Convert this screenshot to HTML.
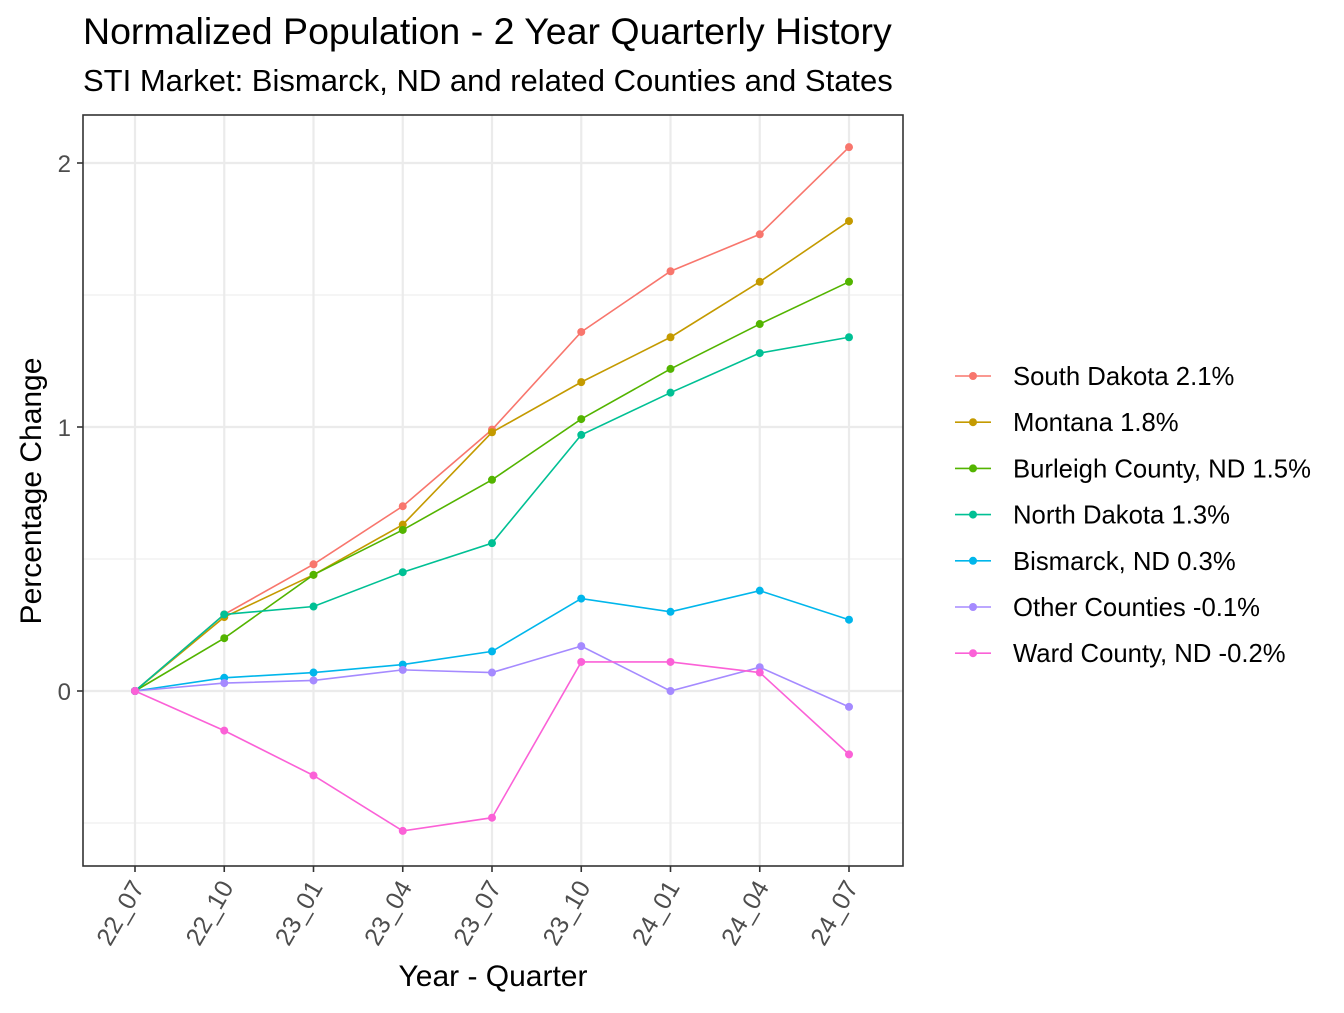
<!DOCTYPE html>
<html><head><meta charset="utf-8"><style>
body{margin:0;background:#fff;font-family:"Liberation Sans",Arial,sans-serif}
</style></head><body>
<svg id="chart" width="1344" height="1008" xmlns="http://www.w3.org/2000/svg" font-family="Liberation Sans, Arial, sans-serif">
<rect width="1344" height="1008" fill="#fff"/>
<text x="83" y="44" font-size="37.5" fill="#000">Normalized Population - 2 Year Quarterly History</text>
<text x="83" y="91" font-size="31" fill="#000">STI Market: Bismarck, ND and related Counties and States</text>
<g id="grid"></g>
<g id="lines"></g>
<rect x="83" y="115" width="820" height="751" fill="none" stroke="#333" stroke-width="1.6"/>
<g id="axes"></g>
<text x="493" y="986" font-size="30" text-anchor="middle">Year - Quarter</text>
<text transform="translate(41,491) rotate(-90)" font-size="30" text-anchor="middle">Percentage Change</text>
<g id="legend"></g>
</svg>
<script>
const categories=["22_07","22_10","23_01","23_04","23_07","23_10","24_01","24_04","24_07"];
const seriesNames=["South Dakota 2.1%","Montana 1.8%","Burleigh County, ND 1.5%","North Dakota 1.3%","Bismarck, ND 0.3%","Other Counties -0.1%","Ward County, ND -0.2%"];
const southDakota=[0,0.29,0.48,0.70,0.99,1.36,1.59,1.73,2.06];
const montana=[0,0.28,0.44,0.63,0.98,1.17,1.34,1.55,1.78];
const burleigh=[0,0.20,0.44,0.61,0.80,1.03,1.22,1.39,1.55];
const northDakota=[0,0.29,0.32,0.45,0.56,0.97,1.13,1.28,1.34];
const bismarck=[0,0.05,0.07,0.10,0.15,0.35,0.30,0.38,0.27];
const otherCounties=[0,0.03,0.04,0.08,0.07,0.17,0.00,0.09,-0.06];
const wardCounty=[0,-0.15,-0.32,-0.53,-0.48,0.11,0.11,0.07,-0.24];
const yTicks=[0,1,2];
const yMinor=[-0.5,0.5,1.5];
const colors=["#F8766D","#C49A00","#53B400","#00C094","#00B6EB","#A58AFF","#FB61D7"];
const allSeries=[southDakota,montana,burleigh,northDakota,bismarck,otherCounties,wardCounty];
const NS="http://www.w3.org/2000/svg";
const x=i=>135+i*(849-135)/(categories.length-1);
const y=v=>691-v*264;
function mk(t,a,p){const e=document.createElementNS(NS,t);for(const k in a)e.setAttribute(k,a[k]);p.appendChild(e);return e;}
const grid=document.getElementById('grid'),lines=document.getElementById('lines'),axes=document.getElementById('axes'),legend=document.getElementById('legend');
yMinor.forEach(v=>{const l=mk('line',{x1:83,x2:903,y1:y(v),y2:y(v),stroke:'#ebebeb','stroke-width':1},grid);

});
yTicks.forEach(v=>{const l=mk('line',{x1:83,x2:903,y1:y(v),y2:y(v),stroke:'#ebebeb','stroke-width':2.2},grid);


const tk=mk('line',{x1:77,x2:83,y1:y(v),y2:y(v),stroke:'#333','stroke-width':1.6},axes);


const t=mk('text',{x:71,y:y(v)+9,'font-size':24,fill:'#4d4d4d','text-anchor':'end'},axes);t.textContent=v;

});
categories.forEach((c,i)=>{const l=mk('line',{x1:x(i),x2:x(i),y1:115,y2:866,stroke:'#ebebeb','stroke-width':2.2},grid);


const tk=mk('line',{x1:x(i),x2:x(i),y1:866,y2:872,stroke:'#333','stroke-width':1.6},axes);


const t=mk('text',{transform:`translate(${x(i)+10},${887}) rotate(-60)`,'font-size':25,fill:'#4d4d4d','text-anchor':'end'},axes);t.textContent=c;

});
allSeries.forEach((s,k)=>{const g=mk('g',{},lines);


const p=mk('polyline',{points:s.map((v,i)=>x(i)+','+y(v)).join(' '),fill:'none',stroke:colors[k],'stroke-width':1.6},g);


s.forEach((v,i)=>{const c=mk('circle',{cx:x(i),cy:y(v),r:4,fill:colors[k]},g);

});
const ly=376+k*46.2;
const lg=mk('g',{},legend);


mk('line',{x1:955,x2:991,y1:ly,y2:ly,stroke:colors[k],'stroke-width':1.6},lg);
mk('circle',{cx:973,cy:ly,r:4,fill:colors[k]},lg);
const t=mk('text',{x:1013,y:ly+9,'font-size':25.7,fill:'#000'},lg);t.textContent=seriesNames[k];});
</script>
</body></html>
